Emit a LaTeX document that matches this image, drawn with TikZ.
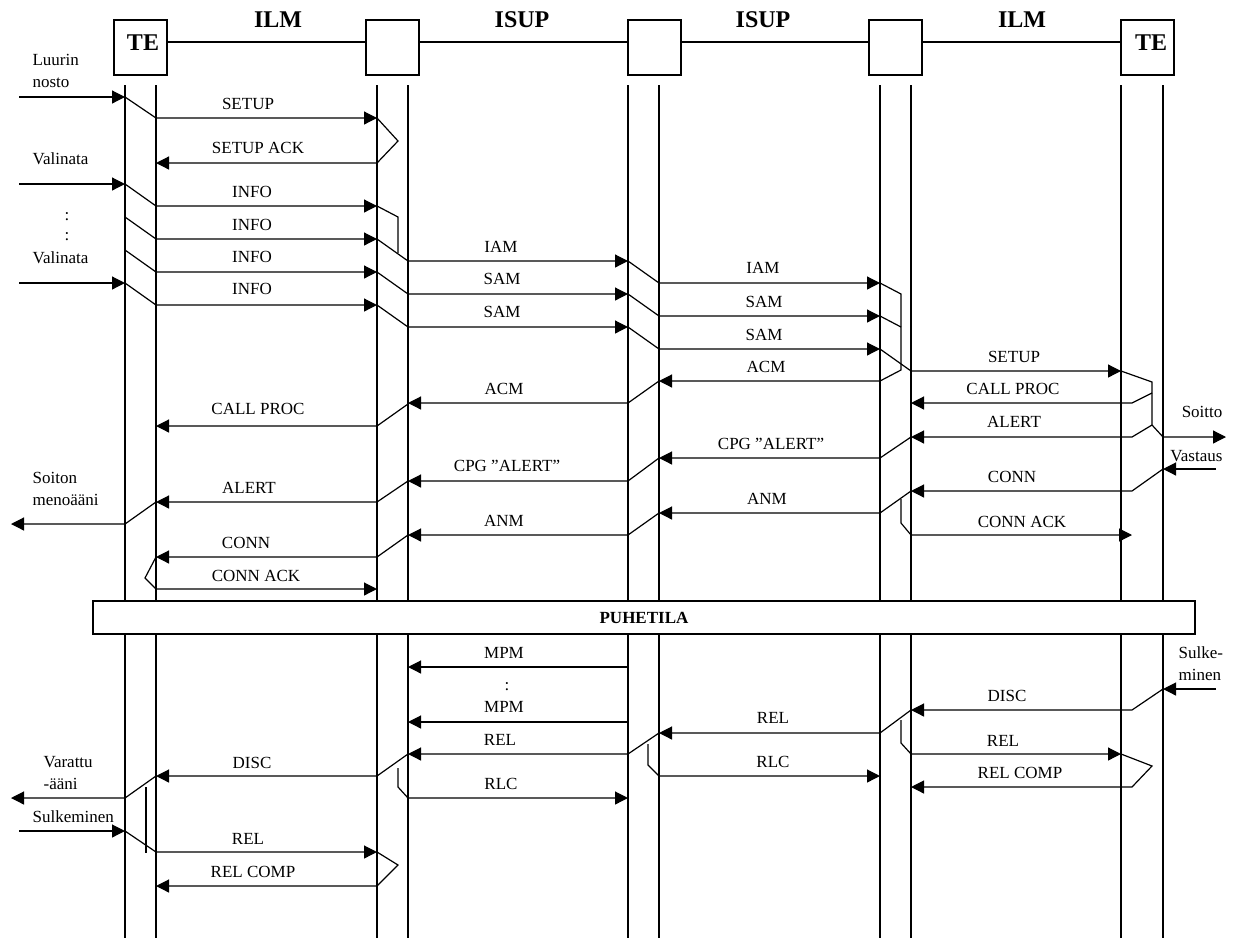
\documentclass[tikz,border=0pt]{standalone}
\usepackage{fontspec}
\setmainfont{Liberation Serif}
\usetikzlibrary{arrows.meta,calc}
\begin{document}
\begin{tikzpicture}[x=0.5pt,y=-0.5pt,
  line width=0.6pt,
  arr/.style={-{Triangle[length=6.5pt,width=6.5pt]}},
  lbl/.style={font=\fontsize{8.5}{11}\selectfont, inner sep=0pt},
  hdr/.style={font=\fontsize{12}{14}\selectfont\bfseries, inner sep=0pt},
  hbox/.style={draw, minimum width=26.5pt, minimum height=27.5pt, inner sep=0pt}]
\useasboundingbox (0,0) rectangle (1236,938);
% header boxes
\coordinate (hl) at (0,42);
\node[hbox] (b1) at (140.5,47.5) {};
\node[hbox] (b2) at (392.5,47.5) {};
\node[hbox] (b3) at (654.5,47.5) {};
\node[hbox] (b4) at (895.5,47.5) {};
\node[hbox] (b5) at (1147.5,47.5) {};
\node[hdr] (te1) at (143,43) {TE};
\node[hdr] (te2) at (1151,43) {TE};
\draw (b1.east|-hl) -- (b2.west|-hl);
\draw (b2.east|-hl) -- (b3.west|-hl);
\draw (b3.east|-hl) -- (b4.west|-hl);
\draw (b4.east|-hl) -- (b5.west|-hl);
\node[hdr] (h1) at (278,20) {ILM};
\node[hdr] (h2) at (522,20) {ISUP};
\node[hdr] (h3) at (763,20) {ISUP};
\node[hdr] (h4) at (1022,20) {ILM};
% lifelines
\foreach \x in {125,156,377,408,628,659,880,911,1121,1163}
  \draw (\x,85) -- (\x,938);
% PUHETILA
\node[draw, fill=white, minimum width=551pt, minimum height=16.5pt, inner sep=0pt] (ph) at (644,617.5) {};
\node[lbl, font=\fontsize{8.5}{11}\selectfont\bfseries] (phl) at (644,618) {PUHETILA};

% ---------- left side labels
\node[lbl, anchor=west, align=left] (luu) at (32,71) {Luurin\\nosto};
\node[lbl, anchor=west] (val1) at (32,159) {Valinata};
\node[lbl] (dot1) at (67,217) {:};
\node[lbl] (dot2) at (67,237) {:};
\node[lbl, anchor=west] (val2) at (32,258) {Valinata};
\node[lbl, anchor=west, align=left] (soi) at (32,489) {Soiton\\menoääni};
\node[lbl, anchor=west, align=left] (var) at (43,773.5) {Varattu\\-ääni};
\node[lbl, anchor=west] (sul) at (32,817) {Sulkeminen};
% right side labels
\node[lbl, anchor=east] (soitto) at (1223,412) {Soitto};
\node[lbl, anchor=east] (vast) at (1223,456) {Vastaus};
\node[lbl, anchor=west, align=left] (sulk) at (1178,663.5) {Sulke-\\minen};

% ---------- messages, upper part
\draw[arr] (19,97) -- (125,97);
\draw[arr] (125,97) -- (156,118) -- (377,118);
\node[lbl] (m1) at (248,104) {SETUP};
\draw[arr] (377,118) -- (398,141) -- (377,163) -- (156,163);
\node[lbl] (m2) at (258,148) {SETUP ACK};
\draw[arr] (19,184) -- (125,184);
\draw[arr] (125,184) -- (156,206) -- (377,206);
\node[lbl] (m3) at (252,192) {INFO};
\draw (377,206) -- (398,217) -- (398,253);
\draw[arr] (125,217) -- (156,239) -- (377,239);
\node[lbl] (m4) at (252,225) {INFO};
\draw[arr] (377,239) -- (408,261) -- (628,261);
\node[lbl] (m5) at (501,247) {IAM};
\draw[arr] (125,250) -- (156,272) -- (377,272);
\node[lbl] (m6) at (252,257) {INFO};
\draw[arr] (377,272) -- (408,294) -- (628,294);
\node[lbl] (m7) at (502,279) {SAM};
\draw[arr] (19,283) -- (125,283);
\draw[arr] (125,283) -- (156,305) -- (377,305);
\node[lbl] (m8) at (252,289) {INFO};
\draw[arr] (377,305) -- (408,327) -- (628,327);
\node[lbl] (m9) at (502,312) {SAM};

\draw[arr] (628,261) -- (659,283) -- (880,283);
\node[lbl] (m10) at (763,268) {IAM};
\draw[arr] (628,294) -- (659,316) -- (880,316);
\node[lbl] (m11) at (764,302) {SAM};
\draw[arr] (628,327) -- (659,349) -- (880,349);
\node[lbl] (m12) at (764,335) {SAM};
\draw[arr] (880,283) -- (901,294) -- (901,370) -- (880,381) -- (659,381);
\node[lbl] (m13) at (766,367) {ACM};
\draw (880,316) -- (901,327);
\draw[arr] (880,349) -- (911,371) -- (1121,371);
\node[lbl] (m14) at (1014,357) {SETUP};

\draw[arr] (1121,371) -- (1152,382) -- (1152,425) -- (1163,437) -- (1226,437);
\draw[arr] (1152,393) -- (1132,403) -- (911,403);
\node[lbl] (m15) at (1013,389) {CALL PROC};
\draw[arr] (1152,425) -- (1132,437) -- (911,437);
\node[lbl] (m16) at (1014,422) {ALERT};
\draw[arr] (911,437) -- (880,458) -- (659,458);
\node[lbl] (m17) at (771,444) {CPG ”ALERT”};
\draw[arr] (1216,469) -- (1163,469);
\draw[arr] (1163,469) -- (1132,491) -- (911,491);
\node[lbl] (m18) at (1012,477) {CONN};
\draw[arr] (911,491) -- (880,513) -- (659,513);
\node[lbl] (m19) at (767,499) {ANM};
\draw[arr] (901,499) -- (901,523) -- (911,535) -- (1132,535);
\node[lbl] (m20) at (1022,522) {CONN ACK};

\draw[arr] (659,381) -- (628,403) -- (408,403);
\node[lbl] (m21) at (504,389) {ACM};
\draw[arr] (408,404) -- (377,426) -- (156,426);
\node[lbl] (m22) at (258,409) {CALL PROC};
\draw[arr] (659,458) -- (628,481) -- (408,481);
\node[lbl] (m23) at (507,466) {CPG ”ALERT”};
\draw[arr] (408,481) -- (377,502) -- (156,502);
\node[lbl] (m24) at (249,488) {ALERT};
\draw[arr] (156,502) -- (125,524) -- (11,524);
\draw[arr] (659,513) -- (628,535) -- (408,535);
\node[lbl] (m25) at (504,521) {ANM};
\draw[arr] (408,535) -- (377,557) -- (156,557);
\node[lbl] (m26) at (246,543) {CONN};
\draw[arr] (156,557) -- (145,578) -- (156,589) -- (377,589);
\node[lbl] (m27) at (256,576) {CONN ACK};

% ---------- lower part
\draw[arr] (628,667) -- (408,667);
\node[lbl] (m28) at (504,653) {MPM};
\node[lbl] (dot3) at (507,687) {:};
\draw[arr] (628,722) -- (408,722);
\node[lbl] (m29) at (504,707) {MPM};
\draw[arr] (1216,689) -- (1163,689);
\draw[arr] (1163,689) -- (1132,710) -- (911,710);
\node[lbl] (m30) at (1007,696) {DISC};
\draw[arr] (911,710) -- (880,733) -- (659,733);
\node[lbl] (m31) at (773,718) {REL};
\draw[arr] (659,733) -- (628,754) -- (408,754);
\node[lbl] (m32) at (500,740) {REL};
\draw[arr] (408,754) -- (377,776) -- (156,776);
\node[lbl] (m33) at (252,763) {DISC};
\draw[arr] (156,776) -- (125,798) -- (11,798);
\draw[arr] (901,720) -- (901,743) -- (911,754) -- (1121,754);
\node[lbl] (m34) at (1003,741) {REL};
\draw[arr] (1121,754) -- (1152,766) -- (1132,787) -- (911,787);
\node[lbl] (m35) at (1020,773) {REL COMP};
\draw[arr] (648,744) -- (648,765) -- (659,776) -- (880,776);
\node[lbl] (m36) at (773,762) {RLC};
\draw[arr] (398,768) -- (398,787) -- (408,798) -- (628,798);
\node[lbl] (m37) at (501,784) {RLC};
\draw (146,787) -- (146,853);
\draw[arr] (19,831) -- (125,831);
\draw[arr] (125,831) -- (156,852) -- (377,852);
\node[lbl] (m38) at (248,839) {REL};
\draw[arr] (377,852) -- (398,865) -- (377,886) -- (156,886);
\node[lbl] (m39) at (253,872) {REL COMP};
\end{tikzpicture}
\end{document}
